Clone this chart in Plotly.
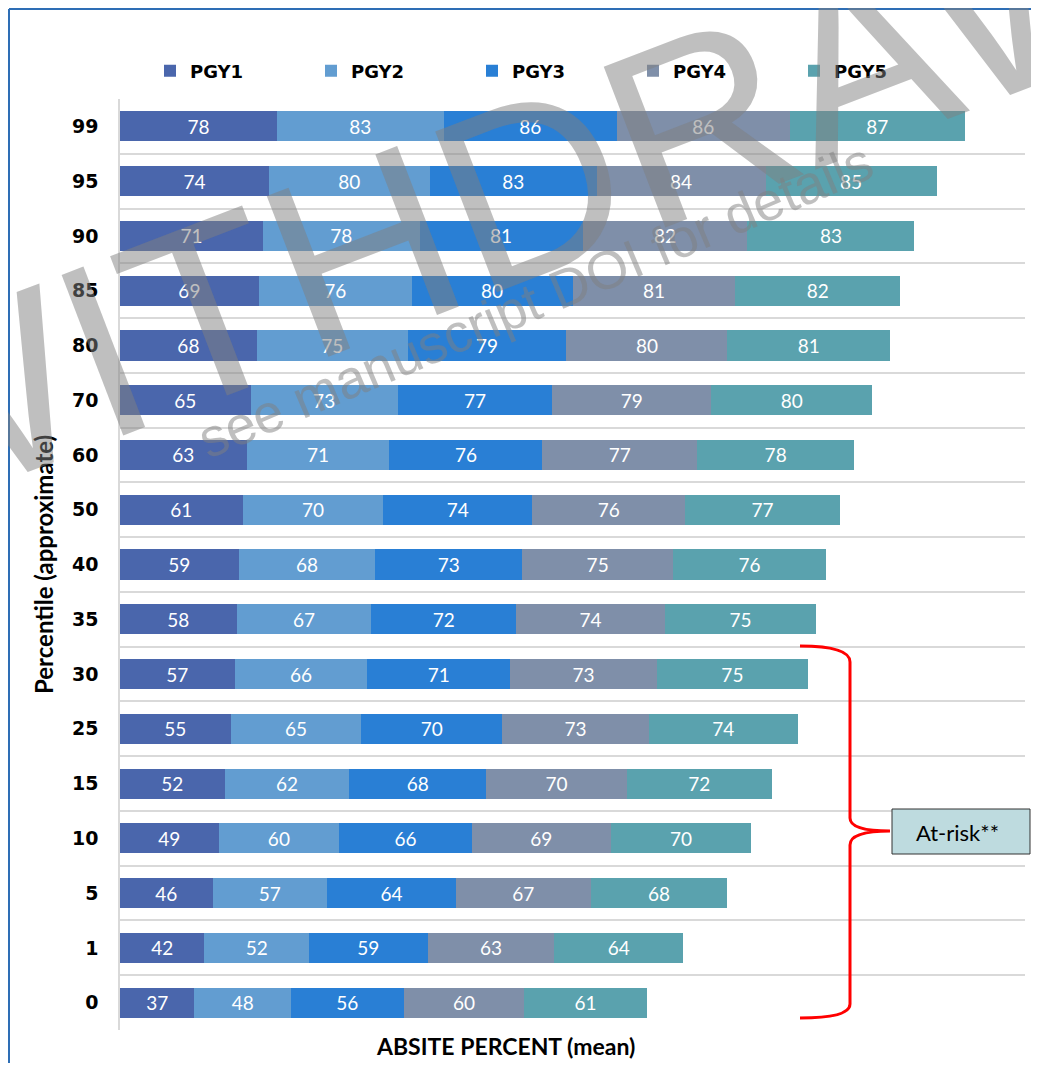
import plotly.graph_objects as go

# ---- data ----
percentiles = ["99", "95", "90", "85", "80", "70", "60", "50", "40", "35",
               "30", "25", "15", "10", "5", "1", "0"]
pgy1 = [78, 74, 71, 69, 68, 65, 63, 61, 59, 58, 57, 55, 52, 49, 46, 42, 37]
pgy2 = [83, 80, 78, 76, 75, 73, 71, 70, 68, 67, 66, 65, 62, 60, 57, 52, 48]
pgy3 = [86, 83, 81, 80, 79, 77, 76, 74, 73, 72, 71, 70, 68, 66, 64, 59, 56]
pgy4 = [86, 84, 82, 81, 80, 79, 77, 76, 75, 74, 73, 73, 70, 69, 67, 63, 60]
pgy5 = [87, 85, 83, 82, 81, 80, 78, 77, 76, 75, 75, 74, 72, 70, 68, 64, 61]
series_names = ["PGY1", "PGY2", "PGY3", "PGY4", "PGY5"]
series_vals = [pgy1, pgy2, pgy3, pgy4, pgy5]
colors = ["#4A66AC", "#629DD1", "#297FD5", "#7F8FA9", "#5AA2AE"]

OFF = 8                      # page body margin
FW, FH = 1023, 1055
ML, MR, MT, MB = 112, 6, 91, 33
PW, PH = FW - ML - MR, FH - MT - MB


def px(X, Y):
    """screenshot pixel -> paper coords"""
    return (X - OFF - ML) / PW, (FH - MB - (Y - OFF)) / PH


fig = go.Figure()
for name, vals, col in zip(series_names, series_vals, colors):
    fig.add_trace(go.Bar(
        y=percentiles, x=vals, name=name, orientation="h",
        marker=dict(color=col, line=dict(width=0)),
        text=[str(v) for v in vals], textposition="inside",
        insidetextanchor="middle", textangle=0,
        textfont=dict(family="Lato", size=19, color="white"),
        constraintext="none",
    ))

fig.update_layout(
    width=FW, height=FH,
    margin=dict(l=ML, r=MR, t=MT, b=MB),
    barmode="stack", bargap=0.45,
    plot_bgcolor="white", paper_bgcolor="white",
    showlegend=True,
    legend=dict(orientation="h", x=px(150, 0)[0], xanchor="left",
                y=px(0, 71)[1], yanchor="middle",
                entrywidth=116, entrywidthmode="pixels",
                font=dict(family="DejaVu Sans", size=18, color="black", weight="bold"),
                traceorder="normal"),
    xaxis=dict(range=[0, 450], showticklabels=False, showgrid=False,
               zeroline=False, showline=False, fixedrange=True),
    yaxis=dict(type="category", autorange="reversed", tickson="boundaries",
               showgrid=True, gridcolor="#D9D9D9", gridwidth=2,
               showline=True, linecolor="#D9D9D9", linewidth=1.5,
               ticks="", ticklabelstandoff=16,
               tickfont=dict(family="DejaVu Sans", size=19, color="black", weight="bold")),
    font=dict(family="Lato"),
)

shapes = []
# outer blue frame (left and top edges visible in the reference)
lx, ly0 = px(9, 1080)
_, ly1 = px(9, 9)
rx, _ = px(1060, 9)
shapes.append(dict(type="line", xref="paper", yref="paper", x0=lx, y0=ly0,
                   x1=lx, y1=ly1, line=dict(color="#2E6EB5", width=2)))
shapes.append(dict(type="line", xref="paper", yref="paper", x0=lx, y0=ly1,
                   x1=rx, y1=ly1, line=dict(color="#2E6EB5", width=2)))

# red brace
pts = [("M", [(800, 646)]), ("Q", [(850, 646), (850, 662)]), ("L", [(850, 818)]),
       ("Q", [(850, 831), (890, 831)]), ("Q", [(850, 831), (850, 845)]),
       ("L", [(850, 1004)]), ("Q", [(850, 1018), (800, 1018)])]
path = ""
for cmd, ps in pts:
    path += cmd + " " + " ".join("%.5f,%.5f" % px(a, b) for a, b in ps) + " "
shapes.append(dict(type="path", xref="paper", yref="paper", path=path,
                   line=dict(color="#FF0000", width=3)))

# at-risk box
bx0, by0 = px(892, 854)
bx1, by1 = px(1030, 809)
shapes.append(dict(type="rect", xref="paper", yref="paper", x0=bx0, y0=by0,
                   x1=bx1, y1=by1, line=dict(color="#333333", width=1),
                   fillcolor="#BEDBDF"))
fig.update_layout(shapes=shapes)

ann = []
ax, ay = px(957, 832)
ann.append(dict(text="At-risk**", xref="paper", yref="paper", x=ax, y=ay,
                showarrow=False, xanchor="center", yanchor="middle",
                font=dict(family="Lato", size=22, color="black")))
tx, ty = px(505, 1046)
ann.append(dict(text="ABSITE PERCENT (mean)", xref="paper", yref="paper", x=tx, y=ty,
                showarrow=False, xanchor="center", yanchor="middle",
                font=dict(family="Lato", size=23, color="black", weight="bold")))
yx, yy = px(43, 565)
ann.append(dict(text="Percentile (approximate)", xref="paper", yref="paper", x=yx, y=yy,
                showarrow=False, xanchor="center", yanchor="middle", textangle=-90,
                font=dict(family="Lato", size=24, color="black", weight="bold")))
# watermark
wx, wy = px(585, 165)
ann.append(dict(text="WITHDRAWN", xref="paper", yref="paper", x=wx, y=wy,
                showarrow=False, xanchor="center", yanchor="middle", textangle=-21,
                font=dict(family="Liberation Sans Narrow, Liberation Sans", size=250,
                          color="rgba(128,128,128,0.5)")))
sx, sy = px(535, 300)
ann.append(dict(text="see manuscript DOI for details", xref="paper", yref="paper", x=sx, y=sy,
                showarrow=False, xanchor="center", yanchor="middle", textangle=-23,
                font=dict(family="Liberation Sans", size=54, color="rgba(128,128,128,0.5)")))
fig.update_layout(annotations=ann)

fig.write_html("out.html")
